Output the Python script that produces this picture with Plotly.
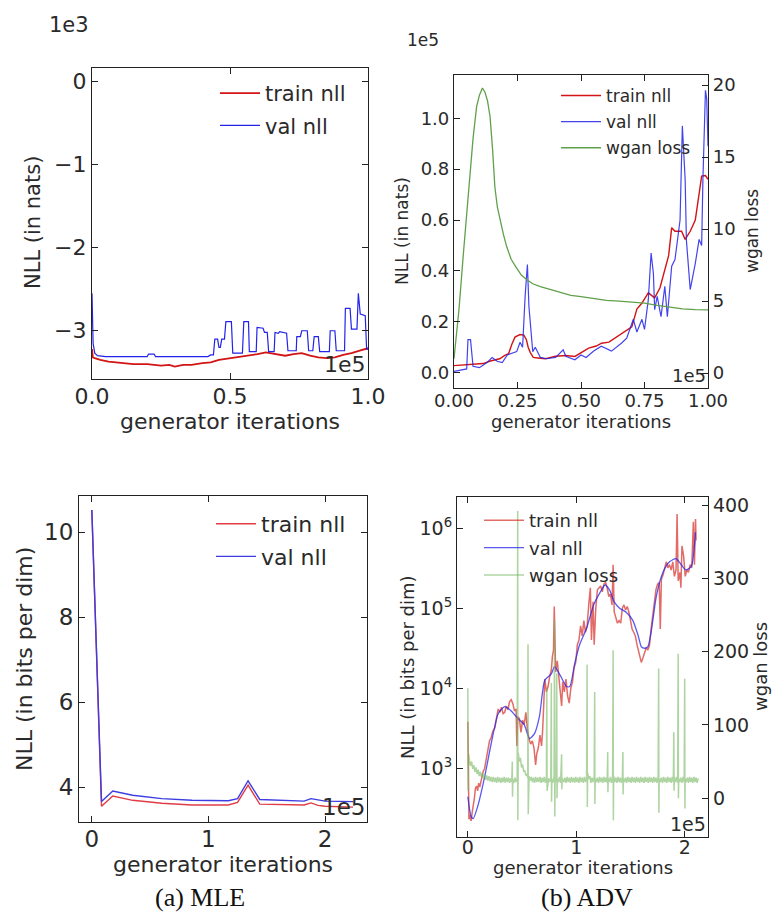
import plotly.graph_objects as go

# ---------------- data (x in units of 1e5 generator iterations) ----------------
# (a) MLE, top: NLL in nats (values in units of 1e3)
mle_nats_train_x = [0.000, 0.003, 0.01, 0.03, 0.06, 0.10, 0.15, 0.20, 0.25, 0.28, 0.30, 0.33, 0.36,
                    0.40, 0.43, 0.46, 0.50, 0.53, 0.56, 0.60, 0.63, 0.65, 0.68, 0.70, 0.73, 0.76,
                    0.79, 0.82, 0.85, 0.88, 0.91, 0.94, 0.97, 1.00]
mle_nats_train_y = [-3.22, -3.32, -3.33, -3.35, -3.37, -3.38, -3.40, -3.40, -3.42, -3.41, -3.43, -3.41, -3.41,
                    -3.39, -3.38, -3.35, -3.33, -3.32, -3.30, -3.28, -3.26, -3.27, -3.29, -3.30, -3.28, -3.27,
                    -3.30, -3.32, -3.33, -3.32, -3.29, -3.27, -3.24, -3.21]
mle_nats_val_x = [0.000, 0.004, 0.01, 0.02, 0.05, 0.20, 0.205, 0.225, 0.23, 0.42, 0.43, 0.44, 0.445, 0.455,
                  0.46, 0.465, 0.47, 0.48, 0.485, 0.505, 0.51, 0.545, 0.55, 0.567, 0.57, 0.595, 0.598,
                  0.62, 0.625, 0.635, 0.64, 0.66, 0.663, 0.675, 0.68, 0.705, 0.71, 0.74, 0.742, 0.755,
                  0.76, 0.78, 0.785, 0.80, 0.805, 0.82, 0.825, 0.86, 0.863, 0.88, 0.885, 0.915, 0.918,
                  0.935, 0.94, 0.96, 0.965, 0.972, 0.99, 0.995, 1.00]
mle_nats_val_y = [-2.55, -3.15, -3.27, -3.30, -3.31, -3.31, -3.28, -3.28, -3.31, -3.31, -3.29, -3.29, -3.10, -3.10,
                  -3.20, -3.20, -3.10, -3.10, -2.89, -2.89, -3.27, -3.27, -2.89, -2.89, -3.25, -3.25, -2.96,
                  -2.97, -3.02, -3.02, -3.25, -3.25, -3.02, -3.03, -3.01, -3.03, -3.24, -3.24, -3.07, -3.07,
                  -3.00, -3.00, -3.24, -3.24, -3.07, -3.07, -3.25, -3.25, -3.00, -3.00, -3.24, -3.24, -2.73,
                  -2.73, -2.98, -2.98, -2.55, -2.80, -2.82, -3.22, -3.22]

# (b) ADV, top: NLL in nats (units of 1e5) and wgan loss
adv_nats_train_x = [0.00, 0.03, 0.06, 0.09, 0.115, 0.14, 0.16, 0.18, 0.20, 0.215, 0.227, 0.24, 0.26, 0.275,
                    0.285, 0.292, 0.30, 0.312, 0.33, 0.36, 0.40, 0.44, 0.476, 0.50, 0.53, 0.56, 0.581, 0.61,
                    0.64, 0.66, 0.69, 0.70, 0.72, 0.74, 0.765, 0.79, 0.811, 0.83, 0.845, 0.857, 0.87, 0.896,
                    0.91, 0.93, 0.95, 0.975, 0.99, 1.00]
adv_nats_train_y = [0.028, 0.030, 0.033, 0.035, 0.036, 0.045, 0.050, 0.055, 0.068, 0.075, 0.110, 0.140, 0.150, 0.148,
                    0.130, 0.100, 0.080, 0.060, 0.058, 0.055, 0.065, 0.068, 0.064, 0.080, 0.097, 0.105, 0.116, 0.120,
                    0.140, 0.155, 0.175, 0.180, 0.250, 0.274, 0.314, 0.294, 0.334, 0.400, 0.460, 0.570, 0.556, 0.556,
                    0.524, 0.556, 0.600, 0.773, 0.775, 0.760]
adv_nats_val_x = [0.00, 0.02, 0.05, 0.055, 0.065, 0.075, 0.10, 0.13, 0.15, 0.17, 0.19, 0.21, 0.247, 0.26, 0.27,
                  0.28, 0.289, 0.295, 0.30, 0.31, 0.32, 0.34, 0.365, 0.40, 0.43, 0.44, 0.476, 0.50, 0.52, 0.55,
                  0.58, 0.62, 0.66, 0.68, 0.706, 0.72, 0.74, 0.75, 0.765, 0.776, 0.785, 0.79, 0.80, 0.815,
                  0.83, 0.84, 0.857, 0.87, 0.89, 0.899, 0.91, 0.915, 0.93, 0.95, 0.965, 0.975, 0.98, 0.99,
                  0.995, 1.00]
adv_nats_val_y = [0.005, 0.008, 0.015, 0.130, 0.130, 0.025, 0.020, 0.040, 0.060, 0.045, 0.040, 0.070, 0.083, 0.120, 0.100,
                  0.300, 0.425, 0.260, 0.210, 0.083, 0.100, 0.060, 0.055, 0.060, 0.090, 0.065, 0.051, 0.070, 0.060, 0.085,
                  0.104, 0.085, 0.117, 0.136, 0.210, 0.160, 0.210, 0.170, 0.287, 0.470, 0.390, 0.248, 0.300, 0.220,
                  0.340, 0.220, 0.419, 0.445, 0.600, 0.970, 0.760, 0.520, 0.327, 0.430, 0.524, 0.500, 0.760, 1.110,
                  1.075, 0.890]
adv_nats_wgan_x = [0.00, 0.02, 0.037, 0.05, 0.063, 0.075, 0.089, 0.10, 0.112, 0.122, 0.132, 0.142, 0.152, 0.161,
                   0.171, 0.181, 0.195, 0.207, 0.225, 0.246, 0.265, 0.286, 0.31, 0.34, 0.38, 0.42, 0.46, 0.50,
                   0.55, 0.60, 0.65, 0.70, 0.75, 0.80, 0.85, 0.90, 0.95, 1.00]
adv_nats_wgan_y = [1.0, 4.5, 8.3, 11.2, 14.1, 16.3, 18.5, 19.3, 19.8, 19.5, 18.9, 17.8, 15.5, 12.9,
                   11.5, 10.6, 9.6, 8.8, 7.9, 7.3, 6.8, 6.5, 6.2, 6.0, 5.8, 5.6, 5.4, 5.3,
                   5.15, 5.05, 5.0, 4.95, 4.85, 4.7, 4.55, 4.45, 4.4, 4.38]

# (a) MLE, bottom: NLL in bits per dim
mle_bpd_x = [0.0, 0.083, 0.18, 0.35, 0.6, 0.86, 1.17, 1.25, 1.34, 1.44, 1.82, 1.88, 1.94, 2.0, 2.24]
mle_bpd_train = [10.52, 3.55, 3.79, 3.69, 3.62, 3.58, 3.58, 3.64, 4.05, 3.60, 3.58, 3.63, 3.57, 3.55, 3.53]
mle_bpd_val = [10.52, 3.66, 3.91, 3.81, 3.73, 3.69, 3.68, 3.73, 4.15, 3.71, 3.67, 3.73, 3.70, 3.67, 3.66]

# (b) ADV, bottom: NLL in bits per dim (log scale) and wgan loss
adv_bpd_train_x = [
    0.000, 0.005, 0.010, 0.020, 0.030, 0.040, 0.050, 0.060, 0.070, 0.080,
    0.090, 0.100, 0.110, 0.120, 0.130, 0.140, 0.155, 0.170, 0.185, 0.200,
    0.215, 0.230, 0.250, 0.265, 0.280, 0.295, 0.310, 0.325, 0.340, 0.355,
    0.370, 0.385, 0.400, 0.415, 0.430, 0.445, 0.452, 0.460, 0.475, 0.490,
    0.505, 0.520, 0.535, 0.550, 0.565, 0.580, 0.595, 0.610, 0.625, 0.635,
    0.650, 0.665, 0.680, 0.690, 0.700, 0.710, 0.725, 0.740, 0.755, 0.770,
    0.780, 0.790, 0.797, 0.803, 0.810, 0.825, 0.840, 0.850, 0.865, 0.875,
    0.890, 0.905, 0.920, 0.935, 0.950, 0.965, 0.980, 0.995, 1.010, 1.025,
    1.040, 1.055, 1.070, 1.085, 1.100, 1.115, 1.130, 1.140, 1.155, 1.165,
    1.180, 1.195, 1.210, 1.225, 1.240, 1.255, 1.270, 1.285, 1.300, 1.315,
    1.330, 1.340, 1.350, 1.365, 1.380, 1.395, 1.410, 1.425, 1.440, 1.455,
    1.470, 1.485, 1.500, 1.515, 1.530, 1.545, 1.560, 1.575, 1.590, 1.600,
    1.615, 1.630, 1.645, 1.660, 1.675, 1.690, 1.705, 1.720, 1.735, 1.750,
    1.765, 1.775, 1.785, 1.800, 1.815, 1.830, 1.845, 1.860, 1.875, 1.890,
    1.905, 1.920, 1.930, 1.940, 1.955, 1.965, 1.975, 1.990, 2.005, 2.020,
    2.035, 2.050, 2.065, 2.080, 2.090, 2.100, 2.105]
adv_bpd_train_y = [
    3800, 600, 230, 260, 220, 280, 330, 420, 560, 600,
    520, 650, 580, 700, 820, 900, 1000, 1400, 1700, 2200,
    2400, 2900, 3200, 4300, 5500, 5000, 5800, 4800, 5000, 6000,
    5400, 6800, 7200, 6400, 5200, 5500, 1900, 4400, 4200, 2800,
    4000, 3500, 5000, 3000, 2300, 2000, 2200, 1800, 1100, 1500,
    1800, 2600, 1900, 3000, 6500, 13000, 9000, 10500, 14000, 17000,
    25000, 30000, 105000, 20000, 16000, 22000, 13000, 11000, 6000, 12000,
    9000, 13000, 8000, 6500, 10000, 12000, 18000, 21000, 35000, 40000,
    60000, 45000, 70000, 50000, 60000, 110000, 180000, 40000, 120000, 35000,
    100000, 170000, 180000, 190000, 160000, 200000, 210000, 180000, 140000, 150000,
    110000, 350000, 90000, 75000, 65000, 70000, 65000, 100000, 110000, 95000,
    105000, 90000, 70000, 55000, 50000, 45000, 35000, 28000, 22000, 21000,
    24000, 28000, 32000, 30000, 34000, 55000, 80000, 120000, 170000, 200000,
    210000, 55000, 230000, 260000, 330000, 380000, 320000, 350000, 300000, 380000,
    250000, 300000, 1500000, 220000, 280000, 180000, 600000, 450000, 250000, 300000,
    280000, 350000, 320000, 1200000, 350000, 1300000, 700000]
adv_bpd_val_x = [0.00, 0.03, 0.05, 0.09, 0.155, 0.216, 0.28, 0.34, 0.40, 0.46, 0.52, 0.568, 0.615, 0.66,
                 0.71, 0.77, 0.80, 0.86, 0.91, 0.94, 0.986, 1.03, 1.095, 1.16, 1.22, 1.265, 1.31, 1.35,
                 1.40, 1.46, 1.52, 1.57, 1.60, 1.63, 1.66, 1.69, 1.74, 1.80, 1.86, 1.92, 1.97, 2.01,
                 2.06, 2.10]
adv_bpd_val_y = [440, 250, 235, 330, 780, 2050, 4800, 5900, 5200, 4200, 3500, 2350, 2700, 4400,
                 12600, 15100, 18600, 13800, 10500, 10500, 20400, 34700, 56000, 110000, 158000, 195000, 166000, 120000,
                 100000, 89000, 71000, 46000, 33000, 31600, 33000, 50000, 145000, 282000, 380000, 417000, 347000, 302000,
                 330000, 890000]
adv_bpd_wgan_x = [
    0.000, 0.002, 0.004, 0.008, 0.015, 0.025, 0.035, 0.045, 0.055, 0.065,
    0.075, 0.085, 0.095, 0.105, 0.115, 0.125, 0.135, 0.145, 0.155, 0.165,
    0.175, 0.185, 0.195, 0.205, 0.215, 0.225, 0.235, 0.245, 0.255, 0.265,
    0.275, 0.285, 0.295, 0.305, 0.315, 0.325, 0.335, 0.345, 0.355, 0.365,
    0.375, 0.385, 0.395, 0.405, 0.410, 0.412, 0.415, 0.425, 0.435, 0.445,
    0.455,
    0.460, 0.461, 0.462, 0.465, 0.475, 0.485, 0.495, 0.505, 0.515, 0.525,
    0.535, 0.545, 0.553, 0.555, 0.557, 0.565, 0.575, 0.585, 0.595, 0.605,
    0.615, 0.625, 0.635, 0.645, 0.655, 0.665, 0.675, 0.685, 0.695, 0.705,
    0.715, 0.725, 0.728, 0.731, 0.745, 0.755, 0.765, 0.770, 0.772, 0.775,
    0.785, 0.795, 0.800, 0.802, 0.805, 0.815, 0.820, 0.822, 0.825, 0.835,
    0.845, 0.855, 0.865, 0.867, 0.870, 0.885, 0.895, 0.905, 0.915, 0.925,
    0.935, 0.945, 0.955, 0.965, 0.975, 0.985, 0.995, 1.005, 1.015, 1.025,
    1.035, 1.045, 1.055, 1.065, 1.075, 1.085,
    1.095, 1.100, 1.102, 1.105, 1.115, 1.125, 1.135, 1.145, 1.155, 1.165,
    1.170, 1.172, 1.175, 1.185, 1.195, 1.205, 1.215, 1.225, 1.235, 1.245,
    1.255, 1.265, 1.275, 1.285, 1.290, 1.292, 1.295, 1.305, 1.315, 1.325,
    1.335, 1.340, 1.342, 1.345, 1.355, 1.365, 1.375, 1.385, 1.395, 1.405,
    1.415, 1.425, 1.430, 1.432, 1.435, 1.445, 1.455, 1.465, 1.475, 1.485,
    1.495, 1.505, 1.515, 1.525, 1.535, 1.545, 1.555, 1.565, 1.575, 1.585,
    1.595, 1.605, 1.615, 1.625, 1.635, 1.645, 1.655, 1.665, 1.675, 1.685,
    1.695, 1.705, 1.715, 1.725, 1.735, 1.745, 1.755, 1.760, 1.762, 1.765,
    1.775, 1.785, 1.795, 1.805, 1.815, 1.825, 1.835, 1.845, 1.855, 1.865,
    1.875, 1.885, 1.895, 1.900, 1.902, 1.905, 1.915, 1.925, 1.935, 1.940,
    1.942, 1.945, 1.955, 1.965, 1.975, 1.985, 1.995, 2.000, 2.002, 2.005,
    2.015, 2.025, 2.035, 2.045, 2.055, 2.065, 2.075, 2.085, 2.095, 2.105,
    2.115, 2.125]
adv_bpd_wgan_y = [
    150, 10, 130, 60, 52, 44, 50, 40, 45, 36,
    42, 33, 39, 30, 36, 29, 34, 27, 32, 25,
    31, 24, 30, 23, 29, 22, 29, 22, 28, 21,
    29, 22, 28, 21, 28, 22, 29, 21, 28, 22,
    28, 21, 27, 22, 50, 2, 26, 21, 28, 22,
    27,
    392, -30, 75, 62, 50, 55, 42, 46, 36, 38,
    31, 33, 28, 210, -22, 30, 24, 29, 22, 28,
    21, 29, 22, 28, 22, 29, 21, 28, 22, 29,
    21, 28, 150, 10, 27, 22, 28, 157, -5, 26,
    21, 30, 243, -25, 28, 22, 170, 0, 27, 22,
    29, 21, 60, 12, 27, 22, 28, 21, 29, 22,
    28, 21, 29, 22, 28, 21, 29, 22, 28, 21,
    29, 22, 28, 21, 29, 22,
    28, 182, -12, 35, 26, 30, 21, 28, 22, 29,
    145, -8, 27, 22, 28, 21, 29, 22, 28, 21,
    29, 22, 28, 21, 63, 8, 27, 22, 29, 21,
    28, 202, -30, 30, 22, 28, 21, 29, 22, 28,
    21, 29, 63, 5, 27, 22, 28, 21, 29, 22,
    28, 21, 29, 22, 28, 21, 29, 22, 28, 21,
    29, 22, 28, 21, 29, 22, 28, 21, 29, 22,
    28, 21, 29, 22, 28, 21, 29, 177, -20, 27,
    22, 28, 21, 29, 22, 28, 21, 29, 22, 28,
    21, 29, 22, 90, 10, 28, 22, 29, 21, 197,
    0, 27, 22, 28, 21, 29, 22, 163, -14, 27,
    22, 28, 21, 29, 22, 28, 21, 29, 22, 28,
    21, 27]

log_tick_vals = [1e3, 1e4, 1e5, 1e6]
log_tick_text = ["10<sup>3</sup>", "10<sup>4</sup>", "10<sup>5</sup>", "10<sup>6</sup>"]

# ---------------- styling ----------------
W, H = 772, 922
RED = "rgb(210,20,20)"
BLUE = "rgb(35,35,235)"
GREEN = "rgb(95,160,75)"
TXT = "#2a2a2a"
FONT = "DejaVu Sans"


def dom_x(a, b):
    return [a / W, b / W]


def dom_y(top, bottom):
    return [1 - bottom / H, 1 - top / H]


def axis(size, **kw):
    d = dict(showline=True, linecolor="#222", linewidth=1.2, ticks="inside", ticklen=6,
             tickwidth=1.1, tickcolor="#222", showgrid=False, zeroline=False, automargin=False,
             tickfont=dict(family=FONT, size=size, color=TXT))
    d.update(kw)
    return d


fig = go.Figure()

# panel (a) top
fig.add_trace(go.Scatter(x=mle_nats_train_x, y=mle_nats_train_y, xaxis="x", yaxis="y", mode="lines",
                         name="train nll", line=dict(color=RED, width=1.8), legend="legend", legendgroup="a1"))
fig.add_trace(go.Scatter(x=mle_nats_val_x, y=mle_nats_val_y, xaxis="x", yaxis="y", mode="lines",
                         name="val nll", line=dict(color=BLUE, width=1.2), legend="legend", legendgroup="a2"))
# panel (b) top
fig.add_trace(go.Scatter(x=adv_nats_train_x, y=adv_nats_train_y, xaxis="x2", yaxis="y2", mode="lines",
                         name="train nll", line=dict(color=RED, width=1.4), legend="legend2", legendgroup="b1"))
fig.add_trace(go.Scatter(x=adv_nats_val_x, y=adv_nats_val_y, xaxis="x2", yaxis="y2", mode="lines",
                         name="val nll", line=dict(color=BLUE, width=1.2), opacity=0.85,
                         legend="legend2", legendgroup="b2"))
fig.add_trace(go.Scatter(x=adv_nats_wgan_x, y=adv_nats_wgan_y, xaxis="x2", yaxis="y3", mode="lines",
                         name="wgan loss", line=dict(color=GREEN, width=1.3), legend="legend2", legendgroup="b3"))
# panel (a) bottom
fig.add_trace(go.Scatter(x=mle_bpd_x, y=mle_bpd_train, xaxis="x3", yaxis="y4", mode="lines",
                         name="train nll", line=dict(color="rgb(225,60,70)", width=1.4),
                         legend="legend3", legendgroup="c1"))
fig.add_trace(go.Scatter(x=mle_bpd_x, y=mle_bpd_val, xaxis="x3", yaxis="y4", mode="lines",
                         name="val nll", line=dict(color="rgb(60,60,225)", width=1.4),
                         legend="legend3", legendgroup="c2"))
# panel (b) bottom
fig.add_trace(go.Scatter(x=adv_bpd_train_x, y=adv_bpd_train_y, xaxis="x4", yaxis="y5", mode="lines",
                         name="train nll", line=dict(color="rgb(215,45,40)", width=1.5), opacity=0.7,
                         legend="legend4", legendgroup="d1"))
fig.add_trace(go.Scatter(x=adv_bpd_val_x, y=adv_bpd_val_y, xaxis="x4", yaxis="y5", mode="lines",
                         name="val nll", line=dict(color=BLUE, width=1.3, shape="spline", smoothing=0.6),
                         opacity=0.75, legend="legend4", legendgroup="d2"))
fig.add_trace(go.Scatter(x=adv_bpd_wgan_x, y=adv_bpd_wgan_y, xaxis="x4", yaxis="y6", mode="lines",
                         name="wgan loss", line=dict(color="rgb(120,185,100)", width=1.5), opacity=0.6,
                         legend="legend4", legendgroup="d3"))


def legend_cfg(x, y, size, gap):
    return dict(x=x / W, y=1 - y / H, xanchor="left", yanchor="top", bgcolor="rgba(0,0,0,0)",
                borderwidth=0, font=dict(family=FONT, size=size, color=TXT), tracegroupgap=gap,
                itemwidth=40)


fig.update_layout(
    template="none",
    width=W, height=H, margin=dict(l=0, r=0, t=0, b=0, autoexpand=False),
    paper_bgcolor="white", plot_bgcolor="white", showlegend=True,
    legend=legend_cfg(215, 73, 21, 2),
    legend2=legend_cfg(556, 78, 17, 1),
    legend3=legend_cfg(211, 503, 22, 1),
    legend4=legend_cfg(479, 502, 18, 1),
    # (a) top
    xaxis=axis(22, domain=dom_x(92, 368), range=[0, 1.0], dtick=0.5, tickformat=".1f", anchor="y",
               mirror="ticks", ticklabelstandoff=-3),
    yaxis=axis(22, domain=dom_y(68, 379), range=[-3.58, 0.16], dtick=1, anchor="x", mirror="ticks"),
    # (b) top
    xaxis2=axis(18, domain=dom_x(454, 708), range=[0, 1.0], dtick=0.25, tickformat=".2f", anchor="y2",
                mirror="ticks", ticklabelstandoff=-4),
    yaxis2=axis(18, domain=dom_y(75, 388), range=[-0.06, 1.17], dtick=0.2, tickformat=".1f", anchor="x2"),
    yaxis3=axis(18, overlaying="y2", side="right", anchor="x2", range=[-1.04, 20.7], dtick=5),
    # (a) bottom
    xaxis3=axis(23, domain=dom_x(79, 367), range=[-0.11, 2.36], dtick=1, anchor="y4", mirror="ticks",
                ticklabelstandoff=-4),
    yaxis4=axis(23, domain=dom_y(496, 822), range=[3.18, 10.85], dtick=2, anchor="x3", mirror="ticks"),
    # (b) bottom
    xaxis4=axis(19, domain=dom_x(457, 708), range=[-0.10, 2.215], dtick=1, anchor="y5", mirror="ticks",
                ticklabelstandoff=-7),
    yaxis5=axis(19, domain=dom_y(497, 837), type="log", range=[2.14, 6.39], anchor="x4",
                tickvals=log_tick_vals, ticktext=log_tick_text),
    yaxis6=axis(19, overlaying="y5", side="right", anchor="x4", range=[-53, 411], dtick=100),
)


def note(text, x, y, size, family=FONT, xanchor="left", angle=0, color=TXT):
    fig.add_annotation(text=text, x=x / W, y=1 - y / H, xref="paper", yref="paper", showarrow=False,
                       xanchor=xanchor, yanchor="middle", textangle=angle,
                       font=dict(family=family, size=size, color=color))


# axis titles
note("generator iterations", 230, 421, 22, xanchor="center")
note("NLL (in nats)", 33, 223, 21, xanchor="center", angle=-90)
note("generator iterations", 581, 421, 18, xanchor="center")
note("NLL (in nats)", 402, 231, 17, xanchor="center", angle=-90)
note("wgan loss", 752, 231, 17, xanchor="center", angle=-90)
note("generator iterations", 223, 864, 22, xanchor="center")
note("NLL (in bits per dim)", 24, 659, 22, xanchor="center", angle=-90)
note("generator iterations", 583, 867, 18, xanchor="center")
note("NLL (in bits per dim)", 407, 667, 18, xanchor="center", angle=-90)
note("wgan loss", 760, 667, 18, xanchor="center", angle=-90)

# axis multiplier labels
note("1e3", 47, 25, 21)
note("1e5", 405, 40, 17)
for xr, yr, size in [("x", "y", 22), ("x2", "y2", 18), ("x3", "y4", 23), ("x4", "y5", 19)]:
    fig.add_annotation(text="1e5", xref=xr + " domain", yref=yr + " domain", x=1, y=0,
                       xanchor="right", yanchor="bottom", showarrow=False,
                       font=dict(family=FONT, size=size, color=TXT))

# sub-figure captions
note("(a) MLE", 200, 897, 26, family="Liberation Serif", xanchor="center", color="#111")
note("(b) ADV", 587, 897, 26, family="Liberation Serif", xanchor="center", color="#111")

fig.write_html("out.html")
